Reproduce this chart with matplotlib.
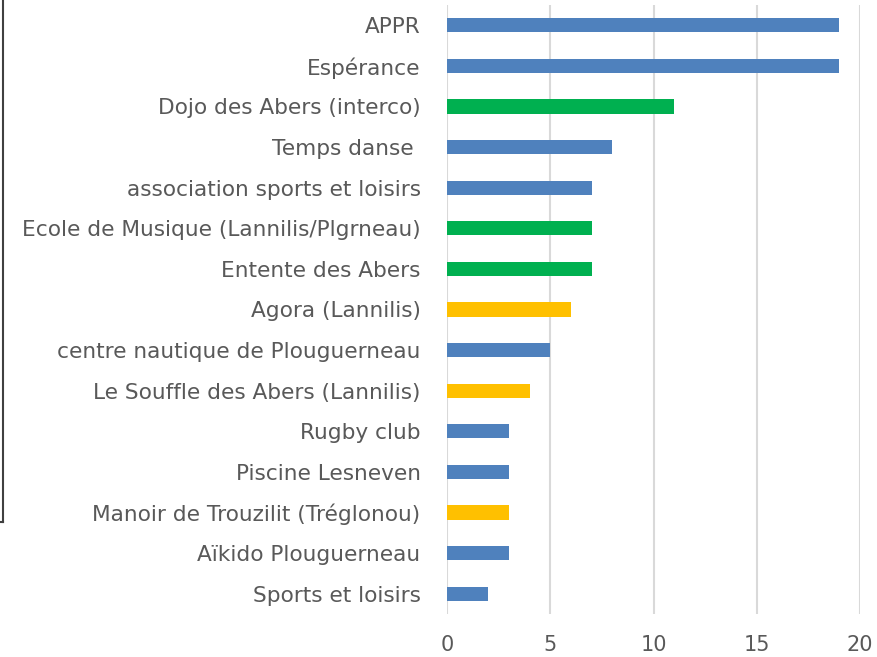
import matplotlib.pyplot as plt
from matplotlib.lines import Line2D

# donnees (de haut en bas)
labels = ["APPR", "Espérance", "Dojo des Abers (interco)", "Temps danse ",
          "association sports et loisirs", "Ecole de Musique (Lannilis/Plgrneau)",
          "Entente des Abers", "Agora (Lannilis)", "centre nautique de Plouguerneau",
          "Le Souffle des Abers (Lannilis)", "Rugby club", "Piscine Lesneven",
          "Manoir de Trouzilit (Tréglonou)", "Aïkido Plouguerneau", "Sports et loisirs"]
values = [19, 19, 11, 8, 7, 7, 7, 6, 5, 4, 3, 3, 3, 3, 2]
groups = ["b", "b", "g", "b", "b", "g", "g", "y", "b", "y", "b", "b", "y", "b", "b"]
xticks = [0, 5, 10, 15, 20]

colors = {"b": "#4F81BD", "g": "#00B050", "y": "#FFC000"}

plt.rcParams['font.family'] = ['DejaVu Sans']

fig = plt.figure(figsize=(8.77, 6.57), dpi=100)
ax = fig.add_axes([447/877, 1-614/657, (860-447)/877, (614-5)/657])

pos = list(range(len(labels)))
ax.barh(pos, values, height=0.345, color=[colors[g] for g in groups], zorder=3)
ax.set_ylim(len(labels)-0.5, -0.5)
ax.set_xlim(0, 20)
ax.set_xticks(xticks)
ax.set_yticks(pos)
ax.set_yticklabels(labels)
ax.tick_params(axis='y', length=0, pad=19, labelsize=15.6, labelcolor='#595959')
ax.tick_params(axis='x', length=0, pad=15, labelsize=15, labelcolor='#595959')
ax.grid(axis='x', color='#D9D9D9', linewidth=1.5, zorder=0)
for s in ax.spines.values():
    s.set_visible(False)

# bord du cadre a gauche (capture)
fig.add_artist(Line2D([3/877, 3/877], [1, 1-522/657], color='#404040', linewidth=1.5))
fig.add_artist(Line2D([0, 3/877], [1-522/657, 1-522/657], color='#404040', linewidth=1.5))

plt.savefig("out.png")
